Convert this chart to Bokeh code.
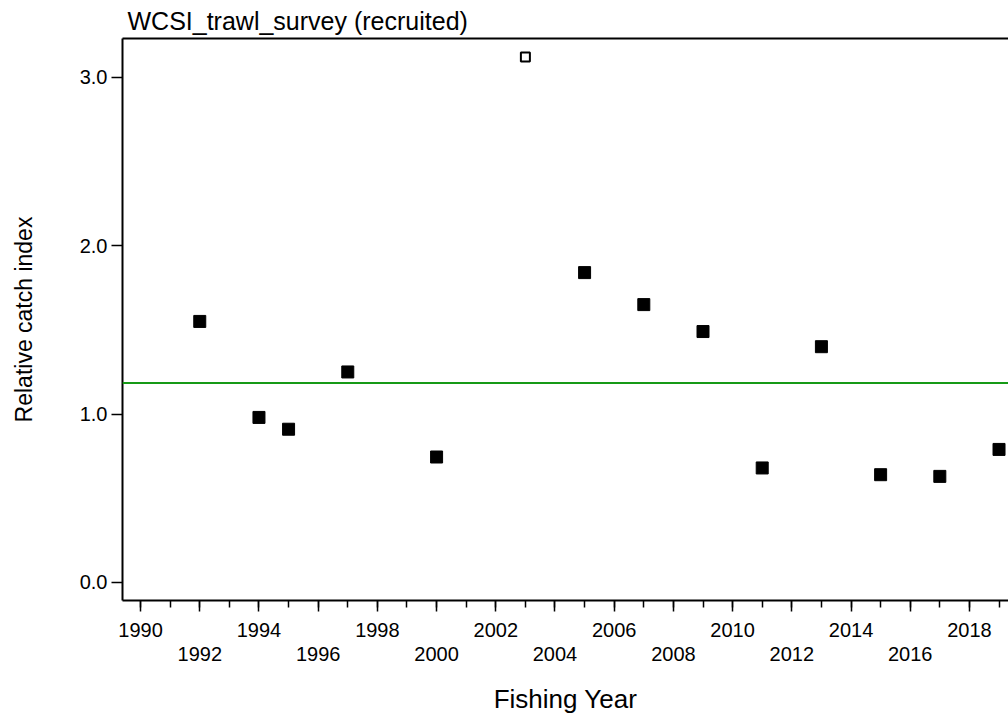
from bokeh.plotting import figure
from bokeh.models import (ColumnDataSource, Range1d, LinearAxis, FixedTicker, Span)
from bokeh.embed import file_html
from bokeh.resources import INLINE

# ---- data ----
years = [1992, 1994, 1995, 1997, 2000, 2003, 2005, 2007, 2009, 2011, 2013, 2015, 2017, 2019]
index_values = [1.55, 0.98, 0.91, 1.25, 0.745, 3.12, 1.84, 1.65, 1.49, 0.68, 1.40, 0.64, 0.63, 0.79]
open_years = [2003]          # shown as hollow marker
reference_level = 1.185      # green horizontal line
y_ticks = [0, 1, 2, 3]
x_tick_years = list(range(1990, 2020, 2))
x_minor_years = list(range(1989, 2021))

FONT = "Liberation Sans"
INK = "black"

solid = ColumnDataSource(dict(
    x=[y for y in years if y not in open_years],
    y=[v for y, v in zip(years, index_values) if y not in open_years]))
hollow = ColumnDataSource(dict(
    x=[y for y in years if y in open_years],
    y=[v for y, v in zip(years, index_values) if y in open_years]))

p = figure(width=1008, height=716, output_backend="svg", toolbar_location=None,
           x_range=Range1d(1989.39, 2019.32), y_range=Range1d(-0.107, 3.23),
           min_border_left=122, min_border_right=0, min_border_top=38,
           min_border_bottom=116, x_axis_type=None, y_axis_type=None,
           title="WCSI_trawl_survey (recruited)")
p.outline_line_color = None
p.background_fill_color = "white"
p.border_fill_color = "white"
p.xgrid.visible = False
p.ygrid.visible = False

p.title.text_font = FONT
p.title.text_font_size = "25px"
p.title.text_font_style = "normal"
p.title.text_color = INK
p.title.offset = 5
p.title.standoff = 7

# bottom axis
xa = LinearAxis(ticker=FixedTicker(ticks=x_tick_years, minor_ticks=x_minor_years))
xa.major_label_overrides = {t: (str(t) if i % 2 == 0 else "\n" + str(t))
                            for i, t in enumerate(x_tick_years)}
xa.axis_label = "Fishing Year"
xa.axis_label_text_font = FONT
xa.axis_label_text_font_size = "26px"
xa.axis_label_text_font_style = "normal"
xa.axis_label_text_color = INK
xa.axis_label_standoff = 16
xa.major_label_text_font = FONT
xa.major_label_text_font_size = "20px"
xa.major_label_text_color = INK
xa.major_label_text_line_height = 1.1
xa.major_label_standoff = 7
xa.major_tick_out = 11
xa.major_tick_in = 0
xa.minor_tick_out = 7
xa.minor_tick_in = 0
xa.axis_line_width = 2
xa.axis_line_color = INK
xa.major_tick_line_width = 1.5
xa.minor_tick_line_width = 1.5
xa.major_tick_line_color = INK
xa.minor_tick_line_color = INK
p.add_layout(xa, "below")

# left axis
ya = LinearAxis(ticker=FixedTicker(ticks=y_ticks))
ya.major_label_overrides = {t: f"{t:.1f}" for t in y_ticks}
ya.axis_label = "Relative catch index"
ya.axis_label_text_font = FONT
ya.axis_label_text_font_size = "23px"
ya.axis_label_text_font_style = "normal"
ya.axis_label_text_color = INK
ya.axis_label_standoff = 40
ya.major_label_text_font = FONT
ya.major_label_text_font_size = "20px"
ya.major_label_text_color = INK
ya.major_label_standoff = 4
ya.major_tick_out = 11
ya.major_tick_in = 0
ya.minor_tick_out = 0
ya.minor_tick_in = 0
ya.axis_line_width = 2
ya.axis_line_color = INK
ya.major_tick_line_width = 1.5
ya.major_tick_line_color = INK
p.add_layout(ya, "left")

# top border as tickless axis
ta = LinearAxis(ticker=FixedTicker(ticks=[]))
ta.axis_line_width = 2
ta.axis_line_color = INK
ta.major_label_text_font_size = "0px"
ta.major_tick_out = 0
ta.minor_tick_out = 0
p.add_layout(ta, "above")

# reference line
p.add_layout(Span(location=reference_level, dimension="width",
                  line_color="#169a16", line_width=2))

p.scatter("x", "y", source=solid, marker="square", size=12,
          fill_color="black", line_color="black")
p.scatter("x", "y", source=hollow, marker="square", size=9,
          fill_color="white", line_color="black", line_width=2)

open("out.html", "w").write(file_html(p, INLINE))
